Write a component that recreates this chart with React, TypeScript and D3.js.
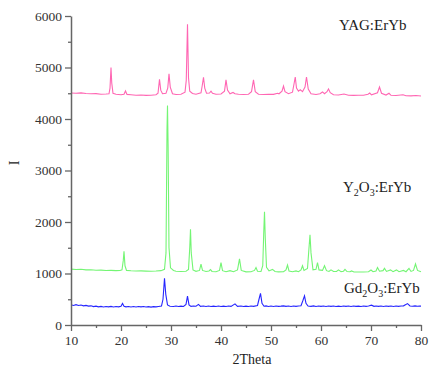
import React, { useEffect, useRef } from "react";
import * as d3 from "d3";

type Pt = [number, number];

const xTicks = [10, 20, 30, 40, 50, 60, 70, 80];
const xMinorTicks = [15, 25, 35, 45, 55, 65, 75];
const yTicks = [0, 1000, 2000, 3000, 4000, 5000, 6000];
const yMinorTicks = [500, 1500, 2500, 3500, 4500, 5500];

const yagData: Pt[] = [[10,4505],[11,4500],[12,4508],[13,4495],[14,4490],[15,4492],[16,4480],[17,4485],[17.6,4490],[17.8,4600],[18.0,5000],[18.15,4700],[18.4,4500],[19,4480],[20,4470],[20.6,4480],[20.9,4545],[21.2,4478],[22,4470],[23,4462],[24,4465],[25,4458],[26,4462],[27,4470],[27.4,4500],[27.7,4770],[27.95,4560],[28.3,4490],[29.0,4500],[29.35,4600],[29.6,4880],[29.85,4620],[30.3,4490],[31,4475],[32,4480],[32.8,4520],[33.05,4750],[33.3,5840],[33.5,4800],[33.75,4540],[34.3,4495],[35,4480],[36.0,4510],[36.25,4650],[36.5,4810],[36.75,4600],[37.1,4500],[37.7,4505],[38.0,4540],[38.3,4500],[39,4480],[40,4485],[40.7,4540],[41.0,4760],[41.3,4560],[41.8,4490],[42.4,4515],[42.8,4490],[43.5,4480],[44.5,4475],[45.5,4480],[46.1,4530],[46.5,4760],[46.85,4530],[47.5,4480],[48.5,4475],[49.5,4480],[50.5,4478],[51.3,4500],[51.6,4490],[52.2,4540],[52.5,4640],[52.8,4530],[53.5,4490],[54.3,4520],[54.6,4680],[54.85,4815],[55.1,4600],[55.5,4540],[55.85,4570],[56.3,4530],[56.8,4620],[57.1,4815],[57.45,4580],[58,4490],[59,4475],[59.8,4490],[60.3,4525],[60.7,4490],[61.2,4530],[61.5,4585],[61.85,4510],[62.5,4470],[63.5,4465],[64.6,4485],[65.5,4462],[66.5,4458],[67.5,4460],[68.5,4460],[69.4,4480],[69.75,4505],[70.1,4470],[71.3,4510],[71.7,4620],[72.1,4500],[73,4465],[73.6,4500],[74,4460],[75,4455],[76.4,4470],[77,4452],[78,4450],[79,4455],[80,4448]];

const y2o3Data: Pt[] = [[10,1085],[11,1078],[12,1082],[13,1070],[14,1072],[15,1063],[16,1066],[17,1058],[18,1060],[19,1055],[19.8,1058],[20.2,1070],[20.45,1250],[20.6,1430],[20.8,1150],[21.1,1060],[22,1052],[23,1048],[24,1050],[25,1046],[26,1044],[27,1048],[28,1055],[28.7,1080],[29.0,1400],[29.2,3800],[29.3,4260],[29.42,3500],[29.6,1500],[29.9,1110],[30.5,1060],[31,1045],[32,1040],[33,1045],[33.5,1080],[33.75,1500],[33.9,1860],[34.05,1400],[34.4,1070],[35,1042],[35.7,1060],[36.0,1180],[36.3,1060],[37,1038],[37.6,1050],[37.9,1075],[38.2,1040],[39,1035],[39.7,1060],[40.0,1210],[40.3,1055],[41,1035],[41.8,1055],[42.5,1035],[43.3,1070],[43.7,1285],[44.05,1060],[45,1032],[46,1035],[46.7,1060],[47.0,1115],[47.3,1045],[48,1040],[48.35,1150],[48.55,1800],[48.7,2200],[48.85,1700],[49.1,1120],[49.6,1050],[50.3,1080],[50.8,1040],[51.5,1032],[52.5,1035],[53.0,1070],[53.3,1165],[53.6,1050],[54.3,1035],[55,1050],[55.5,1035],[56.0,1070],[56.3,1150],[56.6,1060],[57.3,1100],[57.6,1500],[57.8,1750],[58.0,1400],[58.4,1070],[59.0,1080],[59.3,1210],[59.6,1070],[60.3,1060],[60.7,1150],[61.1,1055],[61.6,1040],[62.0,1070],[62.5,1038],[63.1,1040],[63.5,1070],[64,1036],[64.5,1045],[64.8,1080],[65.2,1038],[65.8,1035],[66.1,1050],[66.6,1030],[67.5,1030],[68.5,1030],[69.5,1035],[70.0,1068],[70.4,1035],[71.0,1050],[71.3,1115],[71.7,1045],[72.4,1055],[72.7,1100],[73.1,1040],[73.9,1070],[74.4,1035],[75.1,1070],[75.6,1035],[76.5,1060],[77,1035],[77.6,1100],[78.0,1040],[78.5,1060],[78.9,1185],[79.3,1060],[80,1035]];

const gd2o3Data: Pt[] = [[10,392],[10.5,380],[11,395],[11.5,378],[12,388],[12.5,372],[13,380],[13.5,366],[14,372],[14.5,358],[15,366],[15.5,352],[16,362],[16.5,350],[17,360],[17.5,352],[18,362],[18.5,350],[19,358],[19.5,352],[20.0,365],[20.3,420],[20.6,362],[21,352],[21.5,360],[22,350],[22.5,358],[23,350],[23.5,360],[24,352],[24.5,358],[25,350],[25.5,356],[26,348],[26.5,357],[27,352],[27.5,360],[28.1,370],[28.4,500],[28.7,905],[28.95,600],[29.3,390],[29.8,365],[30.5,358],[31,368],[31.5,360],[32,366],[32.5,360],[33.0,400],[33.3,560],[33.6,390],[34,362],[34.5,368],[35.0,365],[35.5,400],[35.9,362],[36.5,368],[37,360],[37.5,370],[38,360],[38.5,366],[39,358],[39.5,368],[40,360],[40.5,366],[41,360],[41.5,368],[42,362],[42.8,410],[43.3,362],[44,368],[44.5,358],[45,366],[45.5,360],[46,368],[46.5,362],[47.3,380],[47.6,500],[47.9,615],[48.2,420],[48.6,365],[49,372],[49.5,360],[50,368],[50.5,360],[51,370],[51.5,362],[52,366],[52.5,372],[53,362],[53.5,368],[54,360],[54.5,370],[55,362],[55.5,368],[56.0,375],[56.4,480],[56.7,565],[57.0,420],[57.4,368],[58,362],[58.5,372],[59,360],[59.5,370],[60,362],[60.5,368],[61,360],[61.5,370],[62,362],[62.5,368],[63,360],[63.5,366],[64,360],[64.5,370],[65,362],[65.5,368],[66,360],[66.5,370],[67,362],[67.5,366],[68,360],[68.5,368],[69,362],[69.5,370],[70.1,385],[70.6,362],[71,370],[71.5,362],[72,368],[72.5,360],[73,370],[73.5,362],[74,368],[74.5,360],[75,370],[75.5,362],[76,368],[76.5,372],[77.3,415],[77.8,370],[78.3,365],[78.8,372],[79.3,364],[79.7,370],[80,366]];

const FONT = "'Liberation Serif', 'Times New Roman', serif";

export default function App() {
  const ref = useRef<SVGSVGElement>(null);
  const W = 430, H = 373;
  const x = d3.scaleLinear().domain([10, 80]).range([71, 421]);
  const y = d3.scaleLinear().domain([0, 6000]).range([325, 16]);
  const line = d3.line<Pt>().x(d => x(d[0])).y(d => y(d[1]));

  useEffect(() => {
    const svg = d3.select(ref.current);
    svg.selectAll(".ax").remove();
    const g = svg.append("g").attr("class", "ax");
    const style = (sel: any) => {
      sel.selectAll("path").attr("stroke", "#666").attr("stroke-width", 1.5);
      sel.selectAll("line").attr("stroke", "#666").attr("stroke-width", 1.3);
      sel.selectAll("text").attr("fill", "#333").style("font-family", FONT).style("font-size", "13.5px");
    };
    g.append("g").attr("transform", `translate(0,${y(0)})`)
      .call(d3.axisBottom(x).tickValues(xMinorTicks).tickSize(3).tickSizeOuter(0).tickFormat(() => ""))
      .call(style).call((s: any) => s.select("path").remove());
    g.append("g").attr("transform", `translate(${x(10)},0)`)
      .call(d3.axisLeft(y).tickValues(yMinorTicks).tickSize(3).tickSizeOuter(0).tickFormat(() => ""))
      .call(style).call((s: any) => s.select("path").remove());
    g.append("g").attr("transform", `translate(0,${y(0)})`)
      .call(d3.axisBottom(x).tickValues(xTicks).tickSize(6).tickSizeOuter(0).tickPadding(4).tickFormat(d3.format("d")))
      .call(style);
    g.append("g").attr("transform", `translate(${x(10)},0)`)
      .call(d3.axisLeft(y).tickValues(yTicks).tickSize(6).tickSizeOuter(0).tickPadding(3).tickFormat(d3.format("d")))
      .call(style);
  }, []);

  return (
    <svg ref={ref} width={W} height={H} style={{ position: "absolute", left: 0, top: 0, background: "#fff" }}>
      <rect x={0} y={0} width={W} height={H} fill="#fff" />
      <path d={line(gd2o3Data) || ""} fill="none" stroke="#2626ff" strokeWidth={1.1} />
      <path d={line(y2o3Data) || ""} fill="none" stroke="#74f574" strokeWidth={1.1} />
      <path d={line(yagData) || ""} fill="none" stroke="#ff66b3" strokeWidth={1.1} />
      <g fontFamily={FONT} fill="#222">
        <text x={339} y={30} fontSize={15}>YAG:ErYb</text>
        <text x={343} y={192} fontSize={15}>Y<tspan fontSize={10} dy={4}>2</tspan><tspan dy={-4}>O</tspan><tspan fontSize={10} dy={4}>3</tspan><tspan dy={-4}>:ErYb</tspan></text>
        <text x={344} y={293} fontSize={15}>Gd<tspan fontSize={10} dy={4}>2</tspan><tspan dy={-4}>O</tspan><tspan fontSize={10} dy={4}>3</tspan><tspan dy={-4}>:ErYb</tspan></text>
        <text x={252} y={364} fontSize={14} textAnchor="middle">2Theta</text>
        <text transform="translate(19,163) rotate(-90)" fontSize={14} textAnchor="middle">I</text>
      </g>
    </svg>
  );
}
